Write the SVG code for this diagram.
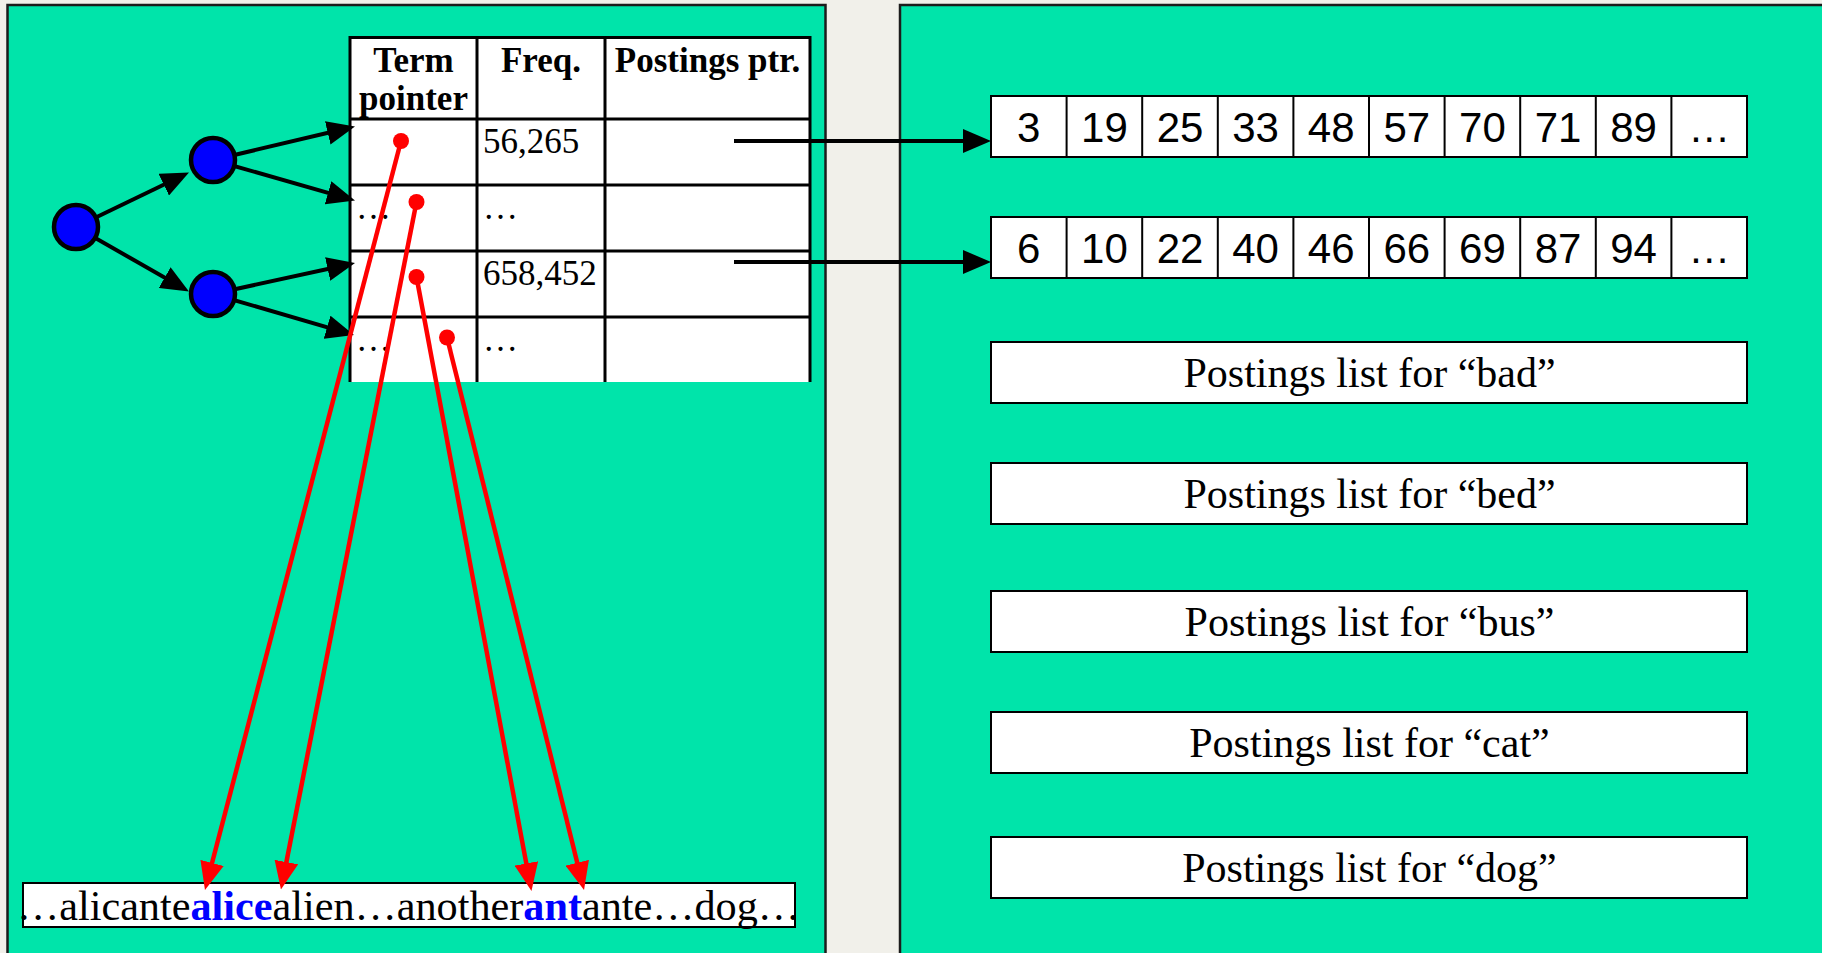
<svg xmlns="http://www.w3.org/2000/svg" width="1822" height="953" viewBox="0 0 1822 953">
  <style>
    .panel { fill: #00E4AA; stroke: #1c1c1c; stroke-width: 2.5; }
    .cell { fill: #ffffff; stroke: #000000; stroke-width: 2; }
    .grid { stroke: #000000; stroke-width: 3; fill: none; }
    .hdr { font-family: "Liberation Serif", "Times New Roman", serif; font-weight: bold; font-size: 35px; fill: #000; text-anchor: middle; }
    .val { font-family: "Liberation Serif", "Times New Roman", serif; font-size: 35px; fill: #000; }
    .num { font-family: "Liberation Sans", Arial, sans-serif; font-size: 42px; fill: #000; text-anchor: middle; }
    .plist { font-family: "Liberation Serif", "Times New Roman", serif; font-size: 42px; fill: #000; text-anchor: middle; }
    .dict { font-family: "Liberation Serif", "Times New Roman", serif; font-size: 42px; fill: #000; }
    .hit { font-weight: bold; fill: #0000FF; }
    .node { fill: #0000FF; stroke: #000; stroke-width: 4.5; }
    .edge { stroke: #000; stroke-width: 4; fill: none; marker-end: url(#blackHead); }
    .ptr { stroke: #FF0000; stroke-width: 4.5; fill: none; marker-end: url(#redHead); }
    .dot { fill: #FF0000; }
  </style>
  <defs>
    <marker id="blackHead" markerUnits="userSpaceOnUse" markerWidth="28" markerHeight="24" refX="20" refY="12" orient="auto">
      <path d="M0,0 L28,12 L0,24 z" fill="#000"/>
    </marker>
    <marker id="redHead" markerUnits="userSpaceOnUse" markerWidth="28" markerHeight="24" refX="20" refY="12" orient="auto">
      <path d="M0,0 L28,12 L0,24 z" fill="#FF0000"/>
    </marker>
  </defs>

  <rect x="0" y="0" width="1822" height="953" fill="#F1F0EA"/>

  <!-- panels -->
  <rect id="dictionary-panel" class="panel" x="7.5" y="5" width="818" height="970"/>
  <rect id="postings-panel" class="panel" x="900" y="5" width="940" height="970"/>

  <!-- dictionary table -->
  <g id="table">
    <rect x="350" y="37" width="460" height="345" fill="#fff"/>
    <path class="grid" d="M350,382 V37.5 H810 V382 M477,37.5 V382 M605,37.5 V382 M350,119 H810 M350,185 H810 M350,251 H810 M350,317 H810"/>
    <text class="hdr" x="413.5" y="72">Term</text>
    <text class="hdr" x="413.5" y="110">pointer</text>
    <text class="hdr" x="541" y="72">Freq.</text>
    <text class="hdr" x="707.5" y="72">Postings ptr.</text>
    <text class="val" x="483" y="153">56,265</text>
    <text class="val" x="356" y="219">…</text>
    <text class="val" x="483" y="219">…</text>
    <text class="val" x="483" y="285">658,452</text>
    <text class="val" x="356" y="351">…</text>
    <text class="val" x="483" y="351">…</text>
  </g>

  <!-- term string -->
  <g id="term-string">
    <rect class="cell" x="23" y="883" width="772" height="44"/>
    <text class="dict" x="17" y="920" textLength="783" lengthAdjust="spacingAndGlyphs">…alicante<tspan class="hit">alice</tspan>alien…another<tspan class="hit">ant</tspan>ante…dog…</text>
  </g>

  <!-- postings lists -->
  <g id="postings-1">
    <rect class="cell" x="991" y="96" width="756" height="61"/>
    <path stroke="#000" stroke-width="2" d="M1066.6,96 V157 M1142.2,96 V157 M1217.8,96 V157 M1293.4,96 V157 M1369,96 V157 M1444.6,96 V157 M1520.2,96 V157 M1595.8,96 V157 M1671.4,96 V157"/>
    <text class="num" x="1028.8" y="141.5">3</text>
    <text class="num" x="1104.4" y="141.5">19</text>
    <text class="num" x="1180" y="141.5">25</text>
    <text class="num" x="1255.6" y="141.5">33</text>
    <text class="num" x="1331.2" y="141.5">48</text>
    <text class="num" x="1406.8" y="141.5">57</text>
    <text class="num" x="1482.4" y="141.5">70</text>
    <text class="num" x="1558" y="141.5">71</text>
    <text class="num" x="1633.6" y="141.5">89</text>
    <text class="num" x="1709.2" y="141.5">…</text>
  </g>
  <g id="postings-2">
    <rect class="cell" x="991" y="217" width="756" height="61"/>
    <path stroke="#000" stroke-width="2" d="M1066.6,217 V278 M1142.2,217 V278 M1217.8,217 V278 M1293.4,217 V278 M1369,217 V278 M1444.6,217 V278 M1520.2,217 V278 M1595.8,217 V278 M1671.4,217 V278"/>
    <text class="num" x="1028.8" y="262.5">6</text>
    <text class="num" x="1104.4" y="262.5">10</text>
    <text class="num" x="1180" y="262.5">22</text>
    <text class="num" x="1255.6" y="262.5">40</text>
    <text class="num" x="1331.2" y="262.5">46</text>
    <text class="num" x="1406.8" y="262.5">66</text>
    <text class="num" x="1482.4" y="262.5">69</text>
    <text class="num" x="1558" y="262.5">87</text>
    <text class="num" x="1633.6" y="262.5">94</text>
    <text class="num" x="1709.2" y="262.5">…</text>
  </g>
  <g id="postings-bad">
    <rect class="cell" x="991" y="342" width="756" height="61"/>
    <text class="plist" x="1369.5" y="387">Postings list for “bad”</text>
  </g>
  <g id="postings-bed">
    <rect class="cell" x="991" y="463" width="756" height="61"/>
    <text class="plist" x="1369.5" y="508">Postings list for “bed”</text>
  </g>
  <g id="postings-bus">
    <rect class="cell" x="991" y="591" width="756" height="61"/>
    <text class="plist" x="1369.5" y="636">Postings list for “bus”</text>
  </g>
  <g id="postings-cat">
    <rect class="cell" x="991" y="712" width="756" height="61"/>
    <text class="plist" x="1369.5" y="757">Postings list for “cat”</text>
  </g>
  <g id="postings-dog">
    <rect class="cell" x="991" y="837" width="756" height="61"/>
    <text class="plist" x="1369.5" y="882">Postings list for “dog”</text>
  </g>

  <!-- connectors -->
  <g id="connectors">
    <line class="edge" x1="76" y1="227" x2="181.8" y2="176"/>
    <line class="edge" x1="76" y1="227" x2="182" y2="287.5"/>
    <line class="edge" x1="213" y1="160" x2="347.2" y2="128.3"/>
    <line class="edge" x1="213" y1="160" x2="347.3" y2="198.3"/>
    <line class="edge" x1="213" y1="294" x2="347.2" y2="264.7"/>
    <line class="edge" x1="213" y1="294" x2="346.3" y2="332.8"/>
    <line class="edge" x1="734" y1="141" x2="983" y2="141"/>
    <line class="edge" x1="734" y1="262" x2="983" y2="262"/>
    <line class="ptr" x1="401" y1="141" x2="207" y2="882.3"/>
    <line class="ptr" x1="416.5" y1="202" x2="282.5" y2="881.7"/>
    <line class="ptr" x1="416.5" y1="277" x2="530" y2="883.1"/>
    <line class="ptr" x1="447" y1="337.5" x2="582.1" y2="882.2"/>
    <circle class="dot" cx="401" cy="141" r="8"/>
    <circle class="dot" cx="416.5" cy="202" r="8"/>
    <circle class="dot" cx="416.5" cy="277" r="8"/>
    <circle class="dot" cx="447" cy="337.5" r="8"/>
  </g>

  <!-- tree nodes -->
  <g id="root-node"><circle class="node" cx="76" cy="227" r="22"/></g>
  <g id="upper-node"><circle class="node" cx="213" cy="160" r="22"/></g>
  <g id="lower-node"><circle class="node" cx="213" cy="294" r="22"/></g>
</svg>
